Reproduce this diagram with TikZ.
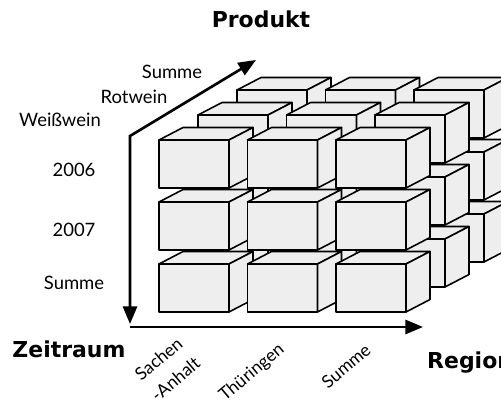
\documentclass[tikz,border=0pt]{standalone}
\usepackage{fontspec}
\setmainfont{Lato}
\newfontfamily\headfont{DejaVu Sans}
\usetikzlibrary{arrows.meta}

\tikzset{
    axis/.style={line width=1.5pt, >={Triangle[length=10pt,width=8pt]}},
    boxface/.style={draw=black, fill=gray!13, line width=0.9pt, line join=round},
    head/.style={font=\headfont\bfseries\fontsize{12.5}{14}\selectfont, anchor=base},
    lbl/.style={font=\fontsize{10.5}{12}\selectfont},
    rlbl/.style={font=\fontsize{10}{15}\selectfont, rotate=40, align=center},
    weinbox/.pic={
        \filldraw[boxface] (0,0) rectangle (70,48);
        \filldraw[boxface] (0,0) -- ++(24,-12.5) -- ++(70,0) -- ++(-24,12.5) -- cycle;
        \filldraw[boxface] (70,0) -- ++(24,-12.5) -- ++(0,48) -- ++(-24,12.5) -- cycle;
    }
}

\begin{document}
\begin{tikzpicture}[x=0.02cm, y=-0.02cm]
    \useasboundingbox (0,0) rectangle (501,406);
    \clip (0,0) rectangle (501,406);

    % Cube of boxes (back layer first)
    \foreach \l in {2,1,0}
        \foreach \r in {2,1,0}
            \foreach \c in {0,1,2}
                \pic at (159+88.5*\c+39*\l, 140+62*\r-25*\l) {weinbox};

    % Axes
    \coordinate (corner) at (130,136);
    \coordinate (prodtip) at (256,60);
    \coordinate (zeittip) at (130,324);
    \coordinate (regstart) at (130,327);
    \coordinate (regtip) at (423,327);
    \draw[axis,<->] (prodtip) -- (corner) -- (zeittip);
    \draw[axis,->] (regstart) -- (regtip);

    % Axis titles
    \node[head] (produkt) at (261,27) {Produkt};
    \node[head] (zeitraum) at (69,357) {Zeitraum};
    \node[head, anchor=base west] (region) at (421,368) {Region};

    % Produkt members
    \node[lbl] (summeP) at (172,72) {Summe};
    \node[lbl] (rotwein) at (134,97) {Rotwein};
    \node[lbl] (weisswein) at (60,120) {Weißwein};

    % Zeitraum members
    \node[lbl] (j2006) at (74,170) {2006};
    \node[lbl] (j2007) at (74,230) {2007};
    \node[lbl] (summeZ) at (74,283) {Summe};

    % Region members
    \node[rlbl] (sachsen) at (167,369) {Sachen\\-Anhalt};
    \node[rlbl] (thueringen) at (252,373) {Thüringen};
    \node[rlbl] (summeR) at (346,366) {Summe};
\end{tikzpicture}
\end{document}
